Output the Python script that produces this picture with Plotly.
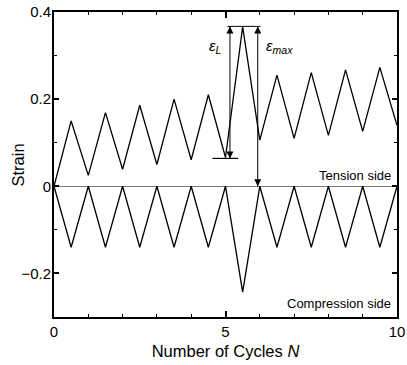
import plotly.graph_objects as go

# ---- data ----
cycles = [0, 0.5, 1, 1.5, 2, 2.5, 3, 3.5, 4, 4.5, 5, 5.5, 6, 6.5, 7, 7.5, 8, 8.5, 9, 9.5, 10]
tension_strain = [0, 0.150, 0.025, 0.169, 0.039, 0.186, 0.050, 0.200, 0.061, 0.210, 0.066,
                  0.366, 0.106, 0.255, 0.110, 0.261, 0.117, 0.267, 0.126, 0.273, 0.140]
compression_strain = [0, -0.14, 0, -0.14, 0, -0.14, 0, -0.14, 0, -0.14, 0,
                      -0.243, 0, -0.14, 0, -0.14, 0, -0.14, 0, -0.14, 0]

# annotation geometry (data units)
eps_L_x = 5.13
eps_max_x = 5.94
top_level = 0.367
bottom_level = 0.064
top_line_x = [5.06, 6.02]
bottom_line_x = [4.62, 5.37]
x_ticks = [0, 5, 10]
x_ticklabels = ["0", "5", "10"]
y_ticks = [-0.2, 0, 0.2, 0.4]
y_ticklabels = ["\u22120.2", "0", "0.2", "0.4"]

FONT = "Liberation Sans, Arial, sans-serif"

fig = go.Figure()
fig.add_trace(go.Scatter(x=cycles, y=tension_strain, mode="lines",
                         line=dict(color="black", width=1.3), showlegend=False))
fig.add_trace(go.Scatter(x=cycles, y=compression_strain, mode="lines",
                         line=dict(color="black", width=1.3), showlegend=False))

# horizontal reference lines
fig.add_trace(go.Scatter(x=top_line_x, y=[top_level, top_level], mode="lines",
                         line=dict(color="black", width=1), showlegend=False))
fig.add_trace(go.Scatter(x=bottom_line_x, y=[bottom_level, bottom_level], mode="lines",
                         line=dict(color="black", width=1.2), showlegend=False))

# double-headed arrows (lines + arrow markers)
for xa, y0, y1 in [(eps_L_x, bottom_level, top_level), (eps_max_x, 0, top_level)]:
    fig.add_trace(go.Scatter(x=[xa, xa], y=[y0, y1], mode="lines",
                             line=dict(color="black", width=1), showlegend=False))
    fig.add_trace(go.Scatter(x=[xa, xa], y=[y0, y1], mode="markers",
                             marker=dict(symbol=["arrow-down", "arrow-up"], size=7,
                                         color="black", line=dict(width=0)),
                             showlegend=False))

fig.add_annotation(x=4.72, y=0.32, text="<i>ε</i><sub><i>L</i></sub>", showarrow=False,
                   font=dict(family=FONT, size=15, color="black"))
fig.add_annotation(x=6.58, y=0.32, text="<i>ε</i><sub><i>max</i></sub>", showarrow=False,
                   font=dict(family=FONT, size=15, color="black"))
fig.add_annotation(x=9.88, y=0.0, text="Tension side", showarrow=False, xanchor="right",
                   yanchor="bottom", yshift=1, font=dict(family=FONT, size=13, color="black"))
fig.add_annotation(x=9.88, y=-0.27, text="Compression side", showarrow=False, xanchor="right",
                   yanchor="middle", font=dict(family=FONT, size=13, color="black"))
# y-axis title
fig.add_annotation(x=-0.105, y=0.5, xref="paper", yref="paper", text="Strain", textangle=-90,
                   showarrow=False, xanchor="center", yanchor="middle",
                   font=dict(family=FONT, size=16.5, color="black"))

fig.update_layout(
    width=407, height=365,
    margin=dict(l=54, r=10, t=12, b=48),
    paper_bgcolor="white", plot_bgcolor="white",
    font=dict(family=FONT, color="black"),
)
fig.update_xaxes(
    range=[0, 10], showgrid=False, zeroline=False, automargin=False,
    showline=True, linecolor="black", linewidth=2, mirror="allticks",
    ticks="inside", ticklen=6, tickwidth=1.5, tickcolor="black",
    tickvals=x_ticks, ticktext=x_ticklabels,
    minor=dict(dtick=1, ticks="inside", ticklen=3, tickcolor="black", tickwidth=1, showgrid=False),
    tickfont=dict(family=FONT, size=15, color="black"),
    title=dict(text="Number of Cycles <i>N</i>", font=dict(family=FONT, size=16.5, color="black"),
               standoff=6),
)
fig.update_yaxes(
    range=[-0.3, 0.4], showgrid=False, automargin=False,
    zeroline=True, zerolinecolor="#777777", zerolinewidth=1,
    showline=True, linecolor="black", linewidth=2, mirror="allticks",
    ticks="inside", ticklen=5, tickwidth=1.5, tickcolor="black",
    tickvals=y_ticks, ticktext=y_ticklabels, ticklabelstandoff=-2,
    minor=dict(dtick=0.1, tick0=0, ticks="inside", ticklen=3, tickcolor="black", tickwidth=1, showgrid=False),
    tickfont=dict(family=FONT, size=15, color="black"),
)

fig.write_html("out.html")
